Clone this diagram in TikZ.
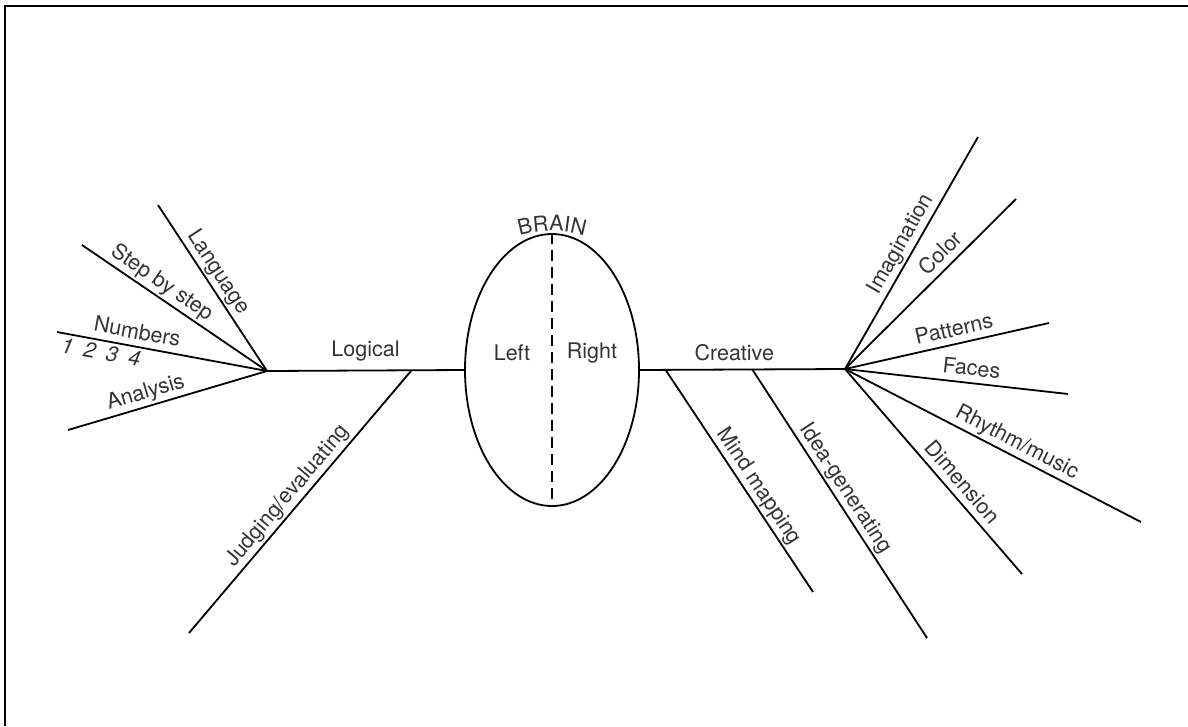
\documentclass[tikz,border=0pt]{standalone}
\usepackage{fontspec}
\setmainfont{TeX Gyre Heros}
\usetikzlibrary{shapes.geometric,decorations.text}

\begin{document}
\begin{tikzpicture}[x=1pt,y=-1pt,line width=1.8pt,
  lbl/.style={font=\fontsize{21.5}{24}\selectfont,text=black!80,inner sep=2pt},
  on/.style={lbl,sloped,above=2.5pt,text depth=.22em}]
\useasboundingbox (0,0) rectangle (1188,726);
\draw[line width=2.5pt] (1188,6) -- (5,6) -- (5,726);

% the brain
\node (brain) [draw,ellipse,minimum width=174pt,minimum height=272pt,inner sep=0pt] at (552,370) {};
\draw[dash pattern=on 11pt off 6pt] (brain.north) -- (brain.south);
\node[lbl] (left) at (512,353) {Left};
\node[lbl] (right) at (592,353) {Right};
\path[decorate,decoration={text along path,text align=center,
  text format delimiters={|}{|},
  text={|\fontsize{21.5}{24}\selectfont\color{black!80}|BRAIN}}]
  (552,341) ++(238:110) arc (238:302:110);

% left side
\coordinate (lh) at (267,371);
\coordinate (jt) at (411,371);
\coordinate (lang) at (158,205);
\coordinate (step) at (82,245);
\coordinate (numb) at (57,332);
\coordinate (anal) at (68,430);
\coordinate (judg) at (189,633);
\draw (lh) -- node[lbl,above=6pt] {Logical} (brain.west);
\draw (lang) -- node[on,pos=.45] {Language} (lh);
\draw (step) -- node[on,pos=.39] {Step by step} (lh);
\draw (numb) -- node[on,pos=.37] {Numbers}
  node[lbl,sloped,below=1pt,pos=.22,font=\fontsize{21.5}{24}\selectfont\itshape] {1\hspace{.5em}2\hspace{.5em}3\hspace{.5em}4} (lh);
\draw (anal) -- node[on,pos=.41] {Analysis} (lh);
\draw (judg) -- node[on,pos=.49] {Judging/evaluating} (jt);

% right side
\coordinate (rh) at (845,369);
\coordinate (mt) at (665,369);
\coordinate (it) at (752,369);
\coordinate (mind) at (813,592);
\coordinate (idea) at (927,638);
\coordinate (imag) at (978,137);
\coordinate (colr) at (1016,199);
\coordinate (patt) at (1049,323);
\coordinate (face) at (1068,394);
\coordinate (rhyt) at (1141,522);
\coordinate (dime) at (1022,574);
\draw (brain.east) -- node[lbl,above=6pt,pos=.46] {Creative} (rh);
\draw (mt) -- node[on,pos=.56] {Mind mapping} (mind);
\draw (it) -- node[on,pos=.47] {Idea-generating} (idea);
\draw (rh) -- node[on,pos=.51] {Imagination} (imag);
\draw (rh) -- node[on,pos=.62] {Color} (colr);
\draw (rh) -- node[on,pos=.55] {Patterns} (patt);
\draw (rh) -- node[on,pos=.56] {Faces} (face);
\draw (rh) -- node[on,pos=.56] {Rhythm/music} (rhyt);
\draw (rh) -- node[on,pos=.6] {Dimension} (dime);
\end{tikzpicture}
\end{document}
